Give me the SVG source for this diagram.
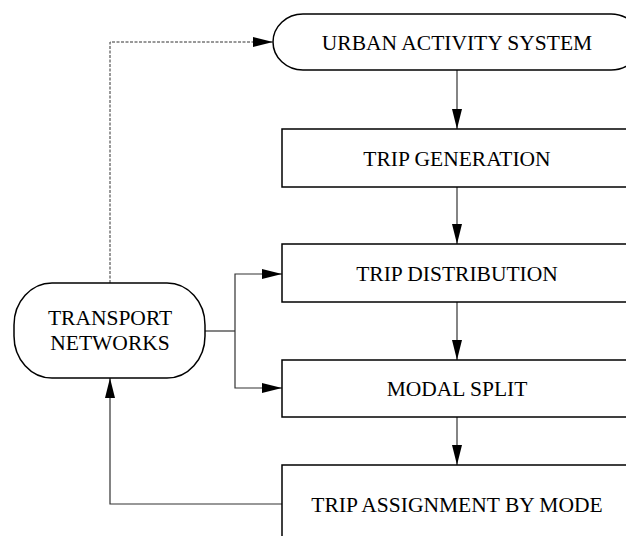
<svg xmlns="http://www.w3.org/2000/svg" width="626" height="536" viewBox="0 0 626 536">
<defs>
<marker id="ah" markerWidth="20" markerHeight="10" refX="20" refY="5" orient="auto" markerUnits="userSpaceOnUse">
<path d="M0,0 L20,5 L0,10 Z" fill="#000"/>
</marker>
<style>
.node{fill:#fff;stroke:#000;stroke-width:1.5}
.lbl{font-family:"Liberation Serif","Times New Roman",serif;font-size:21.5px;fill:#000;text-anchor:middle;dominant-baseline:central}
.c{fill:none;stroke:#333;stroke-width:1.2}
.d{stroke-dasharray:3,1.5;stroke-width:1}
</style>
</defs>
<rect width="626" height="536" fill="#fff"/>
<g id="connectors">
<path class="c d" d="M110,283 V42 H273" marker-end="url(#ah)"/>
<path class="c" d="M457,70 V129" marker-end="url(#ah)"/>
<path class="c" d="M457,187 V244" marker-end="url(#ah)"/>
<path class="c" d="M457,302 V360" marker-end="url(#ah)"/>
<path class="c" d="M457,417 V465" marker-end="url(#ah)"/>
<path class="c" d="M205,331 H235"/>
<path class="c" d="M235,331 V274 H282" marker-end="url(#ah)"/>
<path class="c" d="M235,331 V388 H282" marker-end="url(#ah)"/>
<path class="c" d="M282,504 H110 V378" marker-end="url(#ah)"/>
</g>
<g id="urban">
<rect class="node" x="273" y="14" width="368" height="56" rx="30" ry="28"/>
<text class="lbl" x="457" y="43">URBAN ACTIVITY SYSTEM</text>
</g>
<g id="generation">
<rect class="node" x="282" y="129" width="350" height="58"/>
<text class="lbl" x="457" y="159">TRIP GENERATION</text>
</g>
<g id="distribution">
<rect class="node" x="282" y="244" width="350" height="58"/>
<text class="lbl" x="457" y="274">TRIP DISTRIBUTION</text>
</g>
<g id="modal">
<rect class="node" x="282" y="360" width="350" height="57"/>
<text class="lbl" x="457" y="389">MODAL SPLIT</text>
</g>
<g id="assignment">
<rect class="node" x="282" y="465" width="350" height="80"/>
<text class="lbl" x="457" y="505">TRIP ASSIGNMENT BY MODE</text>
</g>
<g id="transport">
<rect class="node" x="14" y="283" width="191" height="95" rx="38" ry="42"/>
<text class="lbl" x="110" y="318">TRANSPORT</text>
<text class="lbl" x="110" y="343">NETWORKS</text>
</g>
</svg>
